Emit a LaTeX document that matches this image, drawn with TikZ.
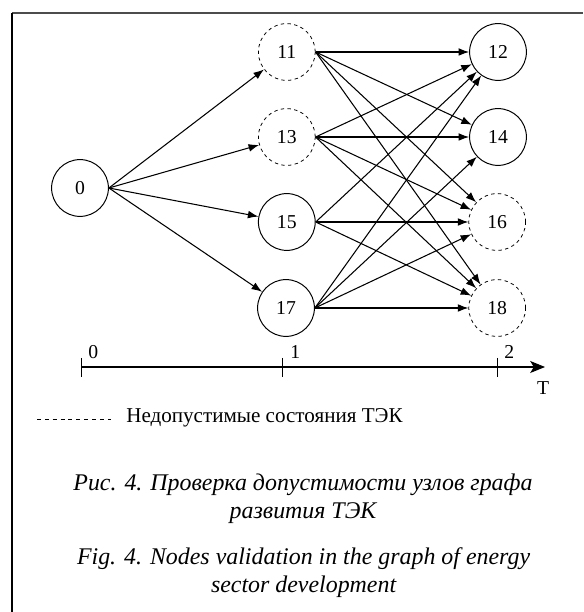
\documentclass[tikz,border=0pt]{standalone}
\usepackage{fontspec}
\setmainfont{Liberation Serif}
\usetikzlibrary{arrows.meta}
\begin{document}
\begin{tikzpicture}[
  state/.style={draw,circle,minimum size=1.42cm,inner sep=0pt,line width=0.7pt,font=\fontsize{14}{16}\selectfont},
  badstate/.style={state,dashed,dash pattern=on 2.4pt off 2.4pt,line width=0.55pt},
  edge/.style={line width=0.75pt,-{Latex[length=7.5pt,width=5.5pt]}},
  tick/.style={font=\fontsize{14}{16}\selectfont,inner sep=0pt}]
  \useasboundingbox (0,0) rectangle (14.575,15.3);
  % frame (cut off on the right and below)
  \draw[line width=1pt,black!70] (0.3,14.975) -- (14.575,14.975);
  \draw[line width=1pt] (0.3,14.975) -- (0.3,0);
  % states
  \node[state] (n0) at (2.0,10.6) {0};
  \node[badstate] (n11) at (7.17,14.0) {11};
  \node[badstate] (n13) at (7.17,11.875) {13};
  \node[state] (n15) at (7.17,9.75) {15};
  \node[state] (n17) at (7.15,7.6) {17};
  \node[state] (n12) at (12.45,14.0) {12};
  \node[state] (n14) at (12.45,11.875) {14};
  \node[badstate] (n16) at (12.43,9.75) {16};
  \node[badstate] (n18) at (12.43,7.6) {18};
  % transitions 0 -> 1
  \draw[edge] (n0.east) -- (n11);
  \draw[edge] (n0.east) -- (n13);
  \draw[edge] (n0.east) -- (n15);
  \draw[edge] (n0.east) -- (n17);
  % transitions 1 -> 2
  \draw[edge] (n11.east) -- (n12);
  \draw[edge] (n11.east) -- (n14);
  \draw[edge] (n11.east) -- (n16);
  \draw[edge] (n11.east) -- (n18);
  \draw[edge] (n13.east) -- (n12);
  \draw[edge] (n13.east) -- (n14);
  \draw[edge] (n13.east) -- (n16);
  \draw[edge] (n13.east) -- (n18);
  \draw[edge] (n15.east) -- (n12);
  \draw[edge] (n15.east) -- (n16);
  \draw[edge] (n15.east) -- (n18);
  \draw[edge] (n17.east) -- (n12);
  \draw[edge] (n17.east) -- (n14);
  \draw[edge] (n17.east) -- (n16);
  \draw[edge] (n17.east) -- (n18);
  % time axis
  \draw[line width=0.8pt,-{Stealth[length=10.5pt,width=8.5pt,inset=2.5pt]}] (2.025,6.125) -- (13.625,6.125);
  \draw[line width=0.7pt] (2.025,6.35) -- (2.025,5.875);
  \draw[line width=0.7pt] (7.07,6.35) -- (7.07,5.875);
  \draw[line width=0.7pt] (12.44,6.35) -- (12.44,5.875);
  \node[tick] (t0) at (2.33,6.5) {0};
  \node[tick] (t1) at (7.38,6.5) {1};
  \node[tick] (t2) at (12.73,6.5) {2};
  \node[tick] (tT) at (13.58,5.6) {T};
  % legend
  \draw[line width=0.55pt,dash pattern=on 2.8pt off 2.8pt] (0.925,4.825) -- (2.775,4.825);
  \node[anchor=west,inner sep=0pt,font=\fontsize{15}{18}\selectfont] (legend) at (3.15,4.86) {Недопустимые состояния ТЭК};
  % captions
  \node[align=center,inner sep=0pt,font=\fontsize{17}{19.9}\selectfont\itshape] (capru) at (7.575,2.83) {Рис. 4. Проверка допустимости узлов графа\\развития ТЭК};
  \node[align=center,inner sep=0pt,font=\fontsize{17}{19.9}\selectfont\itshape] (capen) at (7.59,0.98) {Fig. 4. Nodes validation in the graph of energy\\sector development};
\end{tikzpicture}
\end{document}
